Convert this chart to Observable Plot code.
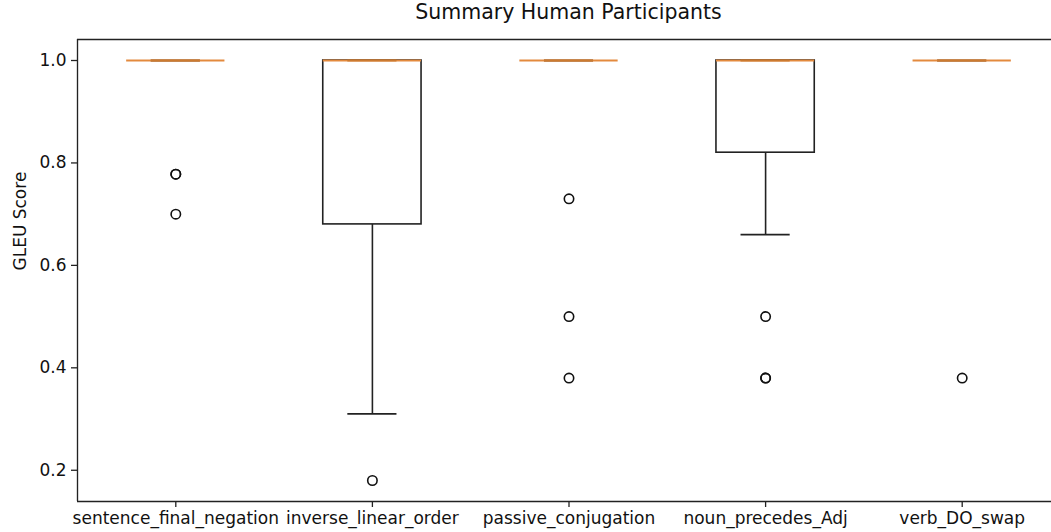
<!DOCTYPE html>
<html>
<head>
<meta charset="utf-8">
<script src="https://cdn.jsdelivr.net/npm/d3@7"></script>
<script src="https://cdn.jsdelivr.net/npm/@observablehq/plot@0.6"></script>
<style>
  html, body { margin: 0; padding: 0; background: #fff; overflow: hidden; }
  #title { height: 28px; line-height: 25px; font-family: "DejaVu Sans", sans-serif; font-size: 20.5px; color: #111;
           padding-left: 77px; width: 983px; text-align: center; box-sizing: content-box; white-space: nowrap; }
  svg { display: block; }
</style>
</head>
<body>
<div id="title">Summary Human Participants</div>
<div id="chart"></div>
<script>
const categories = ["sentence_final_negation", "inverse_linear_order", "passive_conjugation", "noun_precedes_Adj", "verb_DO_swap"];
const q1 = [1.0, 0.68, 1.0, 0.82, 1.0];
const medians = [1.0, 1.0, 1.0, 1.0, 1.0];
const q3 = [1.0, 1.0, 1.0, 1.0, 1.0];
const whiskerLow = [1.0, 0.31, 1.0, 0.66, 1.0];
const whiskerHigh = [1.0, 1.0, 1.0, 1.0, 1.0];
const outlierCategory = ["sentence_final_negation", "sentence_final_negation", "sentence_final_negation",
  "inverse_linear_order",
  "passive_conjugation", "passive_conjugation", "passive_conjugation",
  "noun_precedes_Adj", "noun_precedes_Adj", "noun_precedes_Adj",
  "verb_DO_swap"];
const outlierValue = [0.778, 0.778, 0.70, 0.18, 0.73, 0.50, 0.38, 0.50, 0.38, 0.38, 0.38];
const yTicks = [0.2, 0.4, 0.6, 0.8, 1.0];

const boxes = categories.map((c, k) => ({
  i: k + 1, q1: q1[k], median: medians[k], q3: q3[k], wlo: whiskerLow[k], whi: whiskerHigh[k]
}));
const outliers = outlierValue.map((v, k) => ({ i: categories.indexOf(outlierCategory[k]) + 1, v }));

const yDomain = [0.139, 1.041];
const lw = 1.6;
const fs = 17;

const chart = Plot.plot({
  width: 1051,
  height: 504,
  marginTop: 11,
  marginBottom: 31,
  marginLeft: 77,
  marginRight: 0,
  style: { fontFamily: "DejaVu Sans, sans-serif", fontSize: fs + "px", color: "#111", background: "#fff" },
  x: { domain: [0.5, 5.5], range: [77, 1060] },
  y: { domain: yDomain },
  marks: [
    // axes frame (right edge lies outside the figure, as in the reference)
    Plot.ruleY([yDomain[0]], { stroke: "#222", strokeWidth: 1.35 }),
    Plot.ruleY([yDomain[1]], { stroke: "#222", strokeWidth: 1.35 }),
    Plot.ruleX([0.5], { y1: yDomain[0], y2: yDomain[1], stroke: "#222", strokeWidth: 1.35 }),
    // whiskers
    Plot.ruleX(boxes, { x: "i", y1: "q1", y2: "wlo", stroke: "#222", strokeWidth: lw }),
    Plot.ruleX(boxes, { x: "i", y1: "q3", y2: "whi", stroke: "#222", strokeWidth: lw }),
    // caps
    Plot.ruleY(boxes, { y: "wlo", x1: d => d.i - 0.125, x2: d => d.i + 0.125, stroke: "#222", strokeWidth: lw }),
    Plot.ruleY(boxes, { y: "whi", x1: d => d.i - 0.125, x2: d => d.i + 0.125, stroke: "#222", strokeWidth: lw }),
    // boxes
    Plot.rect(boxes, { x1: d => d.i - 0.25, x2: d => d.i + 0.25, y1: "q1", y2: "q3", fill: "white", stroke: "#222", strokeWidth: lw }),
    // medians
    Plot.ruleY(boxes, { y: "median", x1: d => d.i - 0.25, x2: d => d.i + 0.25, stroke: "#e38a3e", strokeWidth: 2 }),
    Plot.ruleY(boxes, { y: "median", x1: d => d.i - 0.125, x2: d => d.i + 0.125, stroke: "#cc7a30", strokeWidth: 2 }),
    // outliers
    Plot.dot(outliers, { x: "i", y: "v", r: 4.7, stroke: "#111", strokeWidth: 1.6, fill: "none" }),
    // axes
    Plot.axisY({ ticks: yTicks, tickFormat: d3.format(".1f"), tickSize: 6, tickPadding: 5, fontSize: fs, label: null, stroke: "#222", strokeWidth: 1.3 }),
    Plot.axisX({ ticks: [1, 2, 3, 4, 5], tickFormat: i => categories[i - 1], tickSize: 6, tickPadding: 4, fontSize: fs, label: null, stroke: "#222", strokeWidth: 1.3 }),
    Plot.text(["GLEU Score"], { frameAnchor: "left", dx: -57, rotate: -90, fontSize: fs, fill: "#111" })
  ]
});
document.getElementById("chart").appendChild(chart);
</script>
</body>
</html>
